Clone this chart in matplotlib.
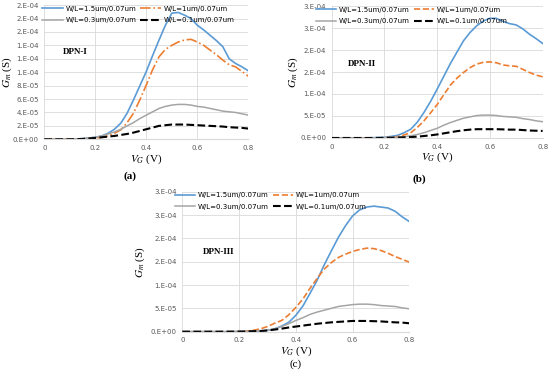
import numpy as np
import matplotlib
matplotlib.use("Agg")
import matplotlib.pyplot as plt
from matplotlib.ticker import FuncFormatter, MultipleLocator
import math

plt.rcParams['mathtext.fontset'] = 'stix'

vg = [0, 0.05, 0.1, 0.15, 0.2, 0.225, 0.25, 0.275, 0.3, 0.325, 0.35, 0.375, 0.4, 0.425, 0.45,
      0.475, 0.5, 0.525, 0.55, 0.575, 0.6, 0.625, 0.65, 0.675, 0.7, 0.725, 0.75, 0.775, 0.8]
labels = ["W/L=1.5um/0.07um", "W/L=1um/0.07um", "W/L=0.3um/0.07um", "W/L=0.1um/0.07um"]

# values in units of 1e-5 S
a_w15 = [0, 0, 0, 0.1, 0.3, 0.5, 0.9, 1.5, 2.4, 3.9, 5.9, 8.0, 10.1, 12.5, 14.8, 17.0, 18.8, 18.9, 18.5,
         18.0, 17.0, 16.3, 15.5, 14.7, 13.8, 12.0, 11.3, 10.8, 10.2]
a_w10 = [0, 0, 0, 0.05, 0.2, 0.3, 0.5, 0.9, 1.4, 2.5, 3.9, 5.9, 8.1, 10.4, 12.3, 13.4, 14.0, 14.5, 14.8,
         14.9, 14.5, 14.0, 13.3, 12.6, 11.8, 11.1, 10.8, 10.1, 9.4]
a_w03 = [0, 0, 0, 0.1, 0.3, 0.5, 0.8, 1.1, 1.5, 2.0, 2.5, 3.1, 3.6, 4.1, 4.6, 4.9, 5.1, 5.2, 5.2,
         5.1, 4.9, 4.8, 4.6, 4.4, 4.2, 4.1, 4.0, 3.8, 3.6]
a_w01 = [0, 0, 0, 0.05, 0.2, 0.3, 0.4, 0.5, 0.65, 0.8, 1.0, 1.25, 1.5, 1.75, 2.0, 2.1, 2.2, 2.2, 2.2,
         2.15, 2.1, 2.05, 2.0, 1.95, 1.9, 1.8, 1.75, 1.7, 1.6]

b_w15 = [0, 0, 0, 0.05, 0.15, 0.35, 0.6, 1.2, 2.0, 3.6, 5.8, 8.3, 11.1, 14.0, 16.9, 19.5, 22.1, 24.0, 25.5,
         26.6, 27.2, 27.2, 26.5, 26.0, 25.7, 24.8, 23.6, 22.6, 21.5]
b_w10 = [0, 0, 0, 0, 0.05, 0.15, 0.3, 0.7, 1.2, 2.4, 3.9, 5.7, 7.6, 9.8, 12.0, 13.6, 14.9, 16.0, 16.8,
         17.2, 17.3, 17.1, 16.6, 16.4, 16.3, 15.6, 14.9, 14.3, 13.9]
b_w03 = [0, 0, 0, 0, 0.05, 0.1, 0.2, 0.3, 0.5, 0.8, 1.2, 1.7, 2.2, 2.9, 3.5, 4.0, 4.5, 4.8, 5.1,
         5.2, 5.2, 5.1, 4.9, 4.8, 4.7, 4.4, 4.2, 3.9, 3.7]
b_w01 = [0, 0, 0, 0, 0.03, 0.05, 0.1, 0.15, 0.2, 0.3, 0.45, 0.6, 0.8, 1.05, 1.3, 1.55, 1.75, 1.9, 2.0,
         2.0, 2.0, 2.0, 1.95, 1.9, 1.9, 1.8, 1.7, 1.65, 1.6]

c_w15 = [0, 0, 0, 0, 0.02, 0.05, 0.1, 0.15, 0.3, 0.6, 1.2, 2.0, 3.5, 5.5, 8.2, 11.0, 14.3, 17.3, 20.2,
         22.7, 24.8, 26.1, 26.7, 26.9, 26.7, 26.5, 25.8, 24.6, 23.6]
c_w10 = [0, 0, 0, 0, 0.03, 0.1, 0.3, 0.6, 1.1, 1.8, 2.4, 3.6, 5.2, 7.0, 9.3, 11.4, 13.4, 14.8, 15.9,
         16.6, 17.2, 17.6, 17.9, 17.8, 17.4, 16.8, 16.1, 15.5, 14.9]
c_w03 = [0, 0, 0, 0, 0.02, 0.05, 0.1, 0.15, 0.3, 0.6, 1.1, 1.7, 2.4, 3.0, 3.7, 4.2, 4.6, 5.0, 5.4,
         5.6, 5.8, 5.9, 5.9, 5.8, 5.6, 5.5, 5.4, 5.1, 4.9]
c_w01 = [0, 0, 0, 0, 0.02, 0.05, 0.1, 0.15, 0.25, 0.45, 0.65, 0.9, 1.1, 1.3, 1.5, 1.7, 1.85, 2.0, 2.1,
         2.2, 2.3, 2.3, 2.3, 2.25, 2.2, 2.1, 2.0, 1.95, 1.8]

SCALE = 1e-5
COLORS = ['#5B9BD5', '#ED7D31', '#A5A5A5', '#000000']
GRID = '#D9D9D9'
TICKC = '#595959'


def excel_fmt(v, pos):
    if abs(v) < 1e-12:
        return '0.E+00'
    e = math.floor(math.log10(abs(v)) + 1e-9)
    m = v / 10 ** e
    mr = int(m + 0.5 + 1e-9)
    if mr >= 10:
        mr = 1
        e += 1
    return f"{mr}.E-{abs(e):02d}" if e < 0 else f"{mr}.E+{e:02d}"


fig = plt.figure(figsize=(5.5, 3.77), dpi=100)

panels = [
    dict(rect=[0.0805, 0.6305, 0.371, 0.356], data=[a_w15, a_w10, a_w03, a_w01], ymax=2e-4, ystep=2e-5,
         orange='-.', name='DPN-I', nxy=(0.092, 0.65), cap='(a)', capxy=(130 / 550, 1 - 176 / 377), capbold=True,
         legx=0.46, ylx=14 / 550),
    dict(rect=[0.603, 0.634, 0.3836, 0.350], data=[b_w15, b_w10, b_w03, b_w01], ymax=3e-4, ystep=5e-5,
         orange='--', name='DPN-II', nxy=(0.076, 0.558), cap='(b)', capxy=(419 / 550, 1 - 179 / 377), capbold=True,
         legx=0.38, ylx=300 / 550),
    dict(rect=[0.3315, 0.1202, 0.4127, 0.3714], data=[c_w15, c_w10, c_w03, c_w01], ymax=3e-4, ystep=5e-5,
         orange='--', name='DPN-III', nxy=(0.091, 0.571), cap='(c)', capxy=(296 / 550, 1 - 364 / 377), capbold=False,
         legx=0.39, ylx=147 / 550),
]

x = np.array(vg)
for p in panels:
    ax = fig.add_axes(p['rect'])
    styles = ['-', p['orange'], '-', '--']
    widths = [1.2, 1.2, 1.1, 1.5]
    lines = []
    for i, series in enumerate(p['data']):
        y = np.array(series) * SCALE
        ln, = ax.plot(x, y, color=COLORS[i], ls=styles[i], lw=widths[i], label=labels[i])
        lines.append(ln)
    ax.set_xlim(0, 0.8)
    ax.set_ylim(0, p['ymax'])
    ax.xaxis.set_major_locator(MultipleLocator(0.2))
    ax.yaxis.set_major_locator(MultipleLocator(p['ystep']))
    ax.yaxis.set_major_formatter(FuncFormatter(excel_fmt))
    ax.xaxis.set_major_formatter(FuncFormatter(lambda v, pos: '0' if abs(v) < 1e-9 else f"{v:.1f}"))
    ax.grid(True, color=GRID, lw=0.6)
    ax.set_axisbelow(True)
    for s in ['top', 'right', 'left']:
        ax.spines[s].set_visible(False)
    ax.spines['bottom'].set_color(GRID)
    ax.tick_params(length=0, labelsize=5, colors=TICKC, pad=4)
    ax.set_xlabel(r'$V_G$ (V)', fontsize=8, family='Liberation Serif', labelpad=1)
    ax.set_ylabel(r'$G_m$ (S)', fontsize=8, family='Liberation Serif')
    r = p['rect']
    ax.yaxis.set_label_coords(p['ylx'], r[1] + r[3] / 2, transform=fig.transFigure)
    ax.text(p['nxy'][0], p['nxy'][1], p['name'], transform=ax.transAxes, fontsize=6.5,
            family='Liberation Serif', fontweight='bold', va='center', ha='left')
    order = [0, 2, 1, 3]
    ax.legend([lines[k] for k in order], [labels[k] for k in order], loc='upper center',
              bbox_to_anchor=(p['legx'], 1.015), ncol=2, frameon=False, fontsize=5,
              handlelength=3, handletextpad=0.4, columnspacing=0.5, labelspacing=0.8, borderaxespad=0)
    fig.text(p['capxy'][0], p['capxy'][1], p['cap'], fontsize=8, family='Liberation Serif',
             fontweight='bold' if p['capbold'] else 'normal', ha='center', va='center')

fig.savefig('out.png', dpi=100)
